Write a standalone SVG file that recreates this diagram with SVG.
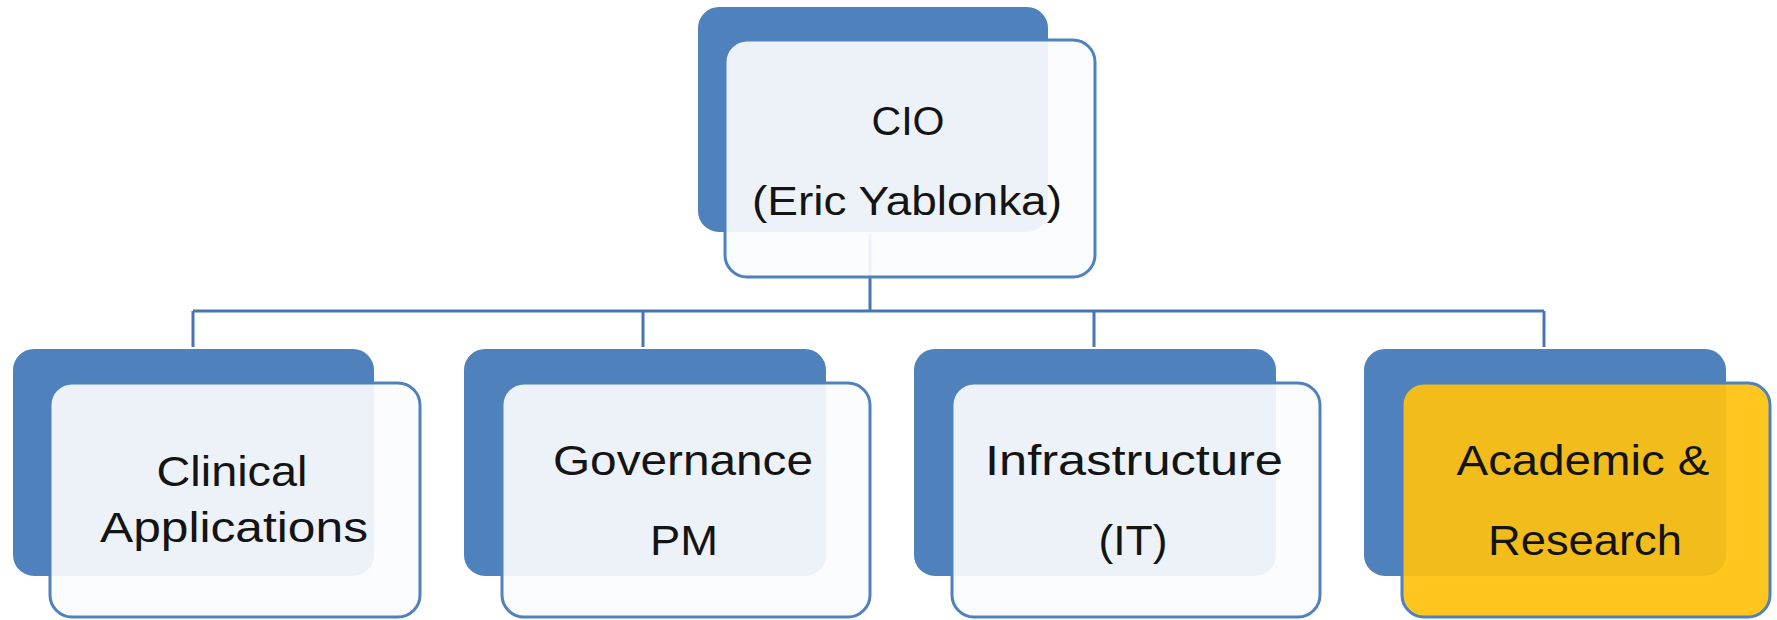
<svg xmlns="http://www.w3.org/2000/svg" width="1777" height="620" viewBox="0 0 1777 620">
<style>
.back{fill:#4f81bd;stroke:#ffffff;stroke-width:2}
.front{fill:#fbfcfe;fill-opacity:0.92;stroke:#4f81bd;stroke-width:3}
.gold{fill:#ffc20e;fill-opacity:0.93;stroke:#4f81bd;stroke-width:3}
.conn{fill:none;stroke:#4a75b3;stroke-width:3}
text{font-family:"Liberation Sans",Arial,sans-serif;fill:#141414;text-anchor:middle;font-size:42px}
.cio text{font-size:40px}
</style>
<rect width="1777" height="620" fill="#ffffff"/>
<g id="connectors">
<path class="conn" d="M870 233 V311 M193 311 H1544 M193 311 V348 M643 311 V348 M1094 311 V348 M1544 311 V348"/>
</g>
<g id="cio" class="cio">
<rect class="back" x="697" y="6" width="352" height="227" rx="22"/>
<rect class="front" x="725" y="40" width="370" height="237" rx="22"/>
<text x="908" y="135" textLength="73" lengthAdjust="spacingAndGlyphs">CIO</text>
<text x="907" y="215" textLength="310" lengthAdjust="spacingAndGlyphs">(Eric Yablonka)</text>
</g>
<g id="clinical">
<rect class="back" x="12" y="348" width="363" height="229" rx="22"/>
<rect class="front" x="50" y="383" width="370" height="234" rx="22"/>
<text x="232" y="486" textLength="151" lengthAdjust="spacingAndGlyphs">Clinical</text>
<text x="234" y="542" textLength="268" lengthAdjust="spacingAndGlyphs">Applications</text>
</g>
<g id="governance">
<rect class="back" x="463" y="348" width="364" height="229" rx="22"/>
<rect class="front" x="502" y="383" width="368" height="234" rx="22"/>
<text x="683" y="475" textLength="260" lengthAdjust="spacingAndGlyphs">Governance</text>
<text x="684" y="555" textLength="68" lengthAdjust="spacingAndGlyphs">PM</text>
</g>
<g id="infrastructure">
<rect class="back" x="913" y="348" width="364" height="229" rx="22"/>
<rect class="front" x="952" y="383" width="368" height="234" rx="22"/>
<text x="1134" y="475" textLength="298" lengthAdjust="spacingAndGlyphs">Infrastructure</text>
<text x="1133" y="555" textLength="69" lengthAdjust="spacingAndGlyphs">(IT)</text>
</g>
<g id="academic">
<rect class="back" x="1363" y="348" width="364" height="229" rx="22"/>
<rect class="gold" x="1402" y="383" width="368" height="234" rx="22"/>
<text x="1583" y="475" textLength="253" lengthAdjust="spacingAndGlyphs">Academic &amp;</text>
<text x="1585" y="555" textLength="194" lengthAdjust="spacingAndGlyphs">Research</text>
</g>
</svg>
